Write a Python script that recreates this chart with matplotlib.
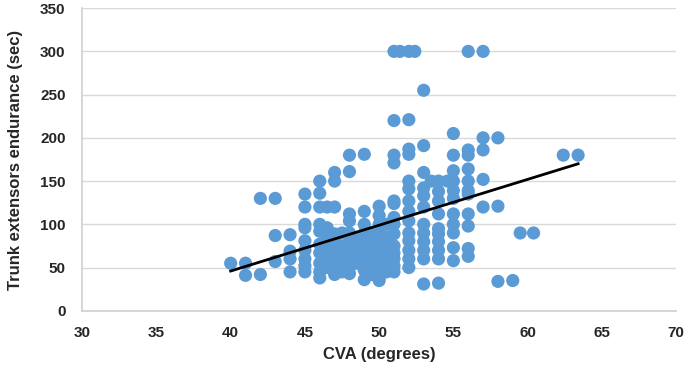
import matplotlib.pyplot as plt

# CVA (degrees) vs trunk extensor endurance (sec)
cva = [
    40, 41, 41, 42, 42, 43, 43, 43, 44, 44, 44, 44,
    45, 45, 45, 45, 45, 45, 45, 45, 45,
    46, 46, 46, 46, 46, 46, 46, 46, 46, 46,
    46.5, 46.5, 46.5, 46.5, 46.5, 46.5,
    47, 47, 47, 47, 47, 47, 47, 47, 47,
    47.5, 47.5, 47.5, 47.5, 47.5,
    48, 48, 48, 48, 48, 48, 48, 48, 48, 48,
    48.5, 48.5, 48.5, 48.5,
    49, 49, 49, 49, 49, 49, 49, 49, 49, 49, 49,
    49.5, 49.5, 49.5, 49.5, 49.5, 49.5,
    50, 50, 50, 50, 50, 50, 50, 50, 50, 50, 50, 50, 50,
    50.5, 50.5, 50.5, 50.5, 50.5, 50.5,
    51, 51, 51, 51, 51, 51, 51, 51, 51, 51, 51, 51, 51, 51,
    51.4,
    52, 52, 52, 52, 52, 52, 52, 52, 52, 52, 52, 52, 52, 52,
    52.4,
    53, 53, 53, 53, 53, 53, 53, 53, 53, 53, 53, 53,
    53.5,
    54, 54, 54, 54, 54, 54, 54, 54, 54, 54,
    54.6,
    55, 55, 55, 55, 55, 55, 55, 55, 55, 55, 55,
    56, 56, 56, 56, 56, 56, 56, 56, 56, 56, 56,
    57, 57, 57, 57, 57,
    58, 58, 58, 59, 59.5, 60.4, 62.4, 63.4,
]
endurance = [
    55, 55, 41, 42, 130, 130, 87, 57, 88, 69, 60, 45,
    135, 120, 100, 96, 81, 70, 60, 52, 45,
    150, 136, 120, 100, 92, 77, 67, 55, 45, 38,
    120, 96, 85, 72, 60, 50,
    160, 150, 120, 89, 80, 75, 63, 50, 42,
    90, 75, 65, 55, 45,
    180, 161, 112, 104, 90, 80, 70, 60, 50, 43,
    85, 75, 65, 55,
    181, 115, 100, 90, 85, 78, 70, 62, 55, 47, 36,
    90, 80, 70, 60, 50, 42,
    121, 110, 100, 95, 88, 81, 72, 66, 60, 54, 48, 38, 35,
    100, 85, 75, 65, 55, 45,
    300, 220, 180, 171, 127, 124, 108, 100, 89, 75, 67, 60, 52, 45,
    300,
    300, 221, 187, 181, 150, 141, 127, 115, 104, 90, 81, 70, 60, 50,
    300,
    255, 191, 160, 142, 133, 120, 100, 90, 80, 70, 60, 31,
    150,
    150, 138, 127, 112, 95, 89, 80, 70, 60, 32,
    150,
    205, 180, 162, 150, 139, 130, 112, 100, 90, 73, 58,
    300, 186, 180, 164, 150, 139, 135, 112, 98, 72, 63,
    300, 200, 186, 152, 120,
    200, 121, 34, 35, 90, 90, 180, 180,
]
# endpoints of the linear trend line
trend_x = [40, 63.4]
trend_y = [46, 170]

x_ticks = [30, 35, 40, 45, 50, 55, 60, 65, 70]
y_ticks = [0, 50, 100, 150, 200, 250, 300, 350]

plt.rcParams['font.family'] = ['Liberation Sans', 'DejaVu Sans']
plt.rcParams['font.weight'] = 'bold'

fig = plt.figure(figsize=(6.85, 3.7), dpi=100)
ax = fig.add_axes([0.12, 0.16, 0.867, 0.818])

ax.scatter(cva, endurance, s=90, color='#5B9BD5', edgecolors='none', zorder=3)
ax.plot(trend_x, trend_y, color='black', linewidth=2, zorder=4)

ax.set_xlim(30, 70)
ax.set_ylim(0, 350)
ax.set_xticks(x_ticks)
ax.set_yticks(y_ticks)
ax.grid(axis='y', color='#D9D9D9', linewidth=1)
ax.set_axisbelow(True)
for side in ['top', 'right']:
    ax.spines[side].set_visible(False)
for side in ['left', 'bottom']:
    ax.spines[side].set_color('#D0D0D0')
    ax.spines[side].set_linewidth(1.2)
ax.tick_params(axis='x', length=0, labelsize=11, pad=11, labelcolor='#262626')
ax.tick_params(axis='y', length=0, labelsize=11, pad=12, labelcolor='#262626')

ax.set_xlabel('CVA (degrees)', fontsize=12, fontweight='bold', color='#262626', labelpad=5)
ax.set_ylabel('Trunk extensors endurance (sec)', fontsize=12, fontweight='bold',
              color='#262626', labelpad=12)

fig.savefig('out.png', dpi=100)
